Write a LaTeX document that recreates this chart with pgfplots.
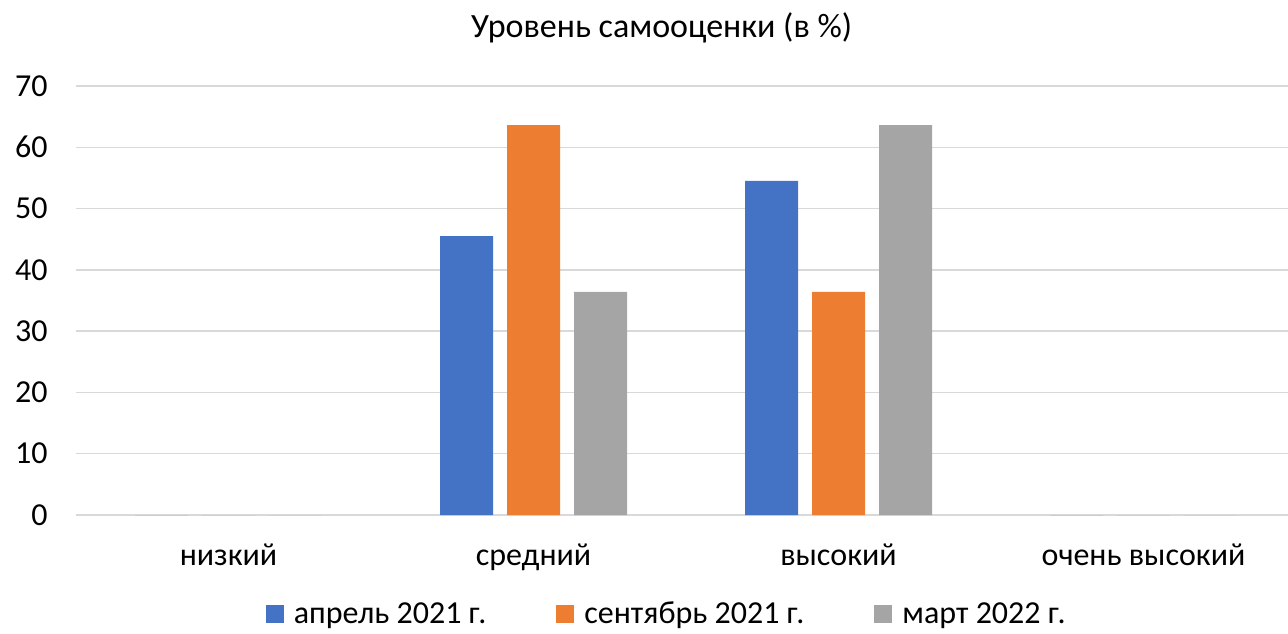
\documentclass[border=0pt]{standalone}
\usepackage{pgfplots}
\pgfplotsset{compat=1.18}
\usepackage{fontspec}
\setmainfont{Carlito}
\definecolor{cblue}{HTML}{4472C4}
\definecolor{corange}{HTML}{ED7D31}
\definecolor{cgray}{HTML}{A5A5A5}
\definecolor{cgrid}{HTML}{D9D9D9}
\begin{document}
\begin{tikzpicture}
\path[use as bounding box] (-38pt,-59pt) rectangle (606pt,257.5pt);
\begin{axis}[
  scale only axis,
  width=610pt, height=214.5pt,
  at={(0,0)}, anchor=south west,
  ybar=7pt, bar width=26.5pt,
  xmin=-0.5, xmax=3.5, ymin=0, ymax=70,
  ytick={0,10,...,70},
  xtick={0,1,2,3},
  xticklabels={низкий, средний, высокий, очень высокий},
  ymajorgrids, grid style={cgrid, line width=0.75pt},
  axis line style={draw=none},
  major tick length=0pt,
  tick style={draw=none},
  /pgf/number format/assume math mode=true,
  ticklabel style={font=\fontsize{16}{19}\selectfont, text=black},
  yticklabel style={xshift=-10.7pt},
  xticklabel style={yshift=-11pt},
  title={Уровень самооценки (в \%)},
  title style={font=\fontsize{17}{20}\selectfont, at={(0.48,1)}, yshift=12pt},
  legend style={at={(0.485,-0.232)}, anchor=center, draw=none, legend columns=3,
    font=\fontsize{16}{19}\selectfont,
    /tikz/every odd column/.append style={column sep=3pt},
    /tikz/every even column/.append style={column sep=33pt}},
  legend image code/.code={\fill[#1] (0pt,-4pt) rectangle (9pt,5pt);},
]
\addplot[fill=cblue, draw=none] coordinates {(0,0) (1,45.5) (2,54.5) (3,0)};
\addplot[fill=corange, draw=none] coordinates {(0,0) (1,63.6) (2,36.4) (3,0)};
\addplot[fill=cgray, draw=none] coordinates {(0,0) (1,36.4) (2,63.6) (3,0)};
\legend{апрель 2021 г., сентябрь 2021 г., март 2022 г.}
\end{axis}
\end{tikzpicture}
\end{document}
